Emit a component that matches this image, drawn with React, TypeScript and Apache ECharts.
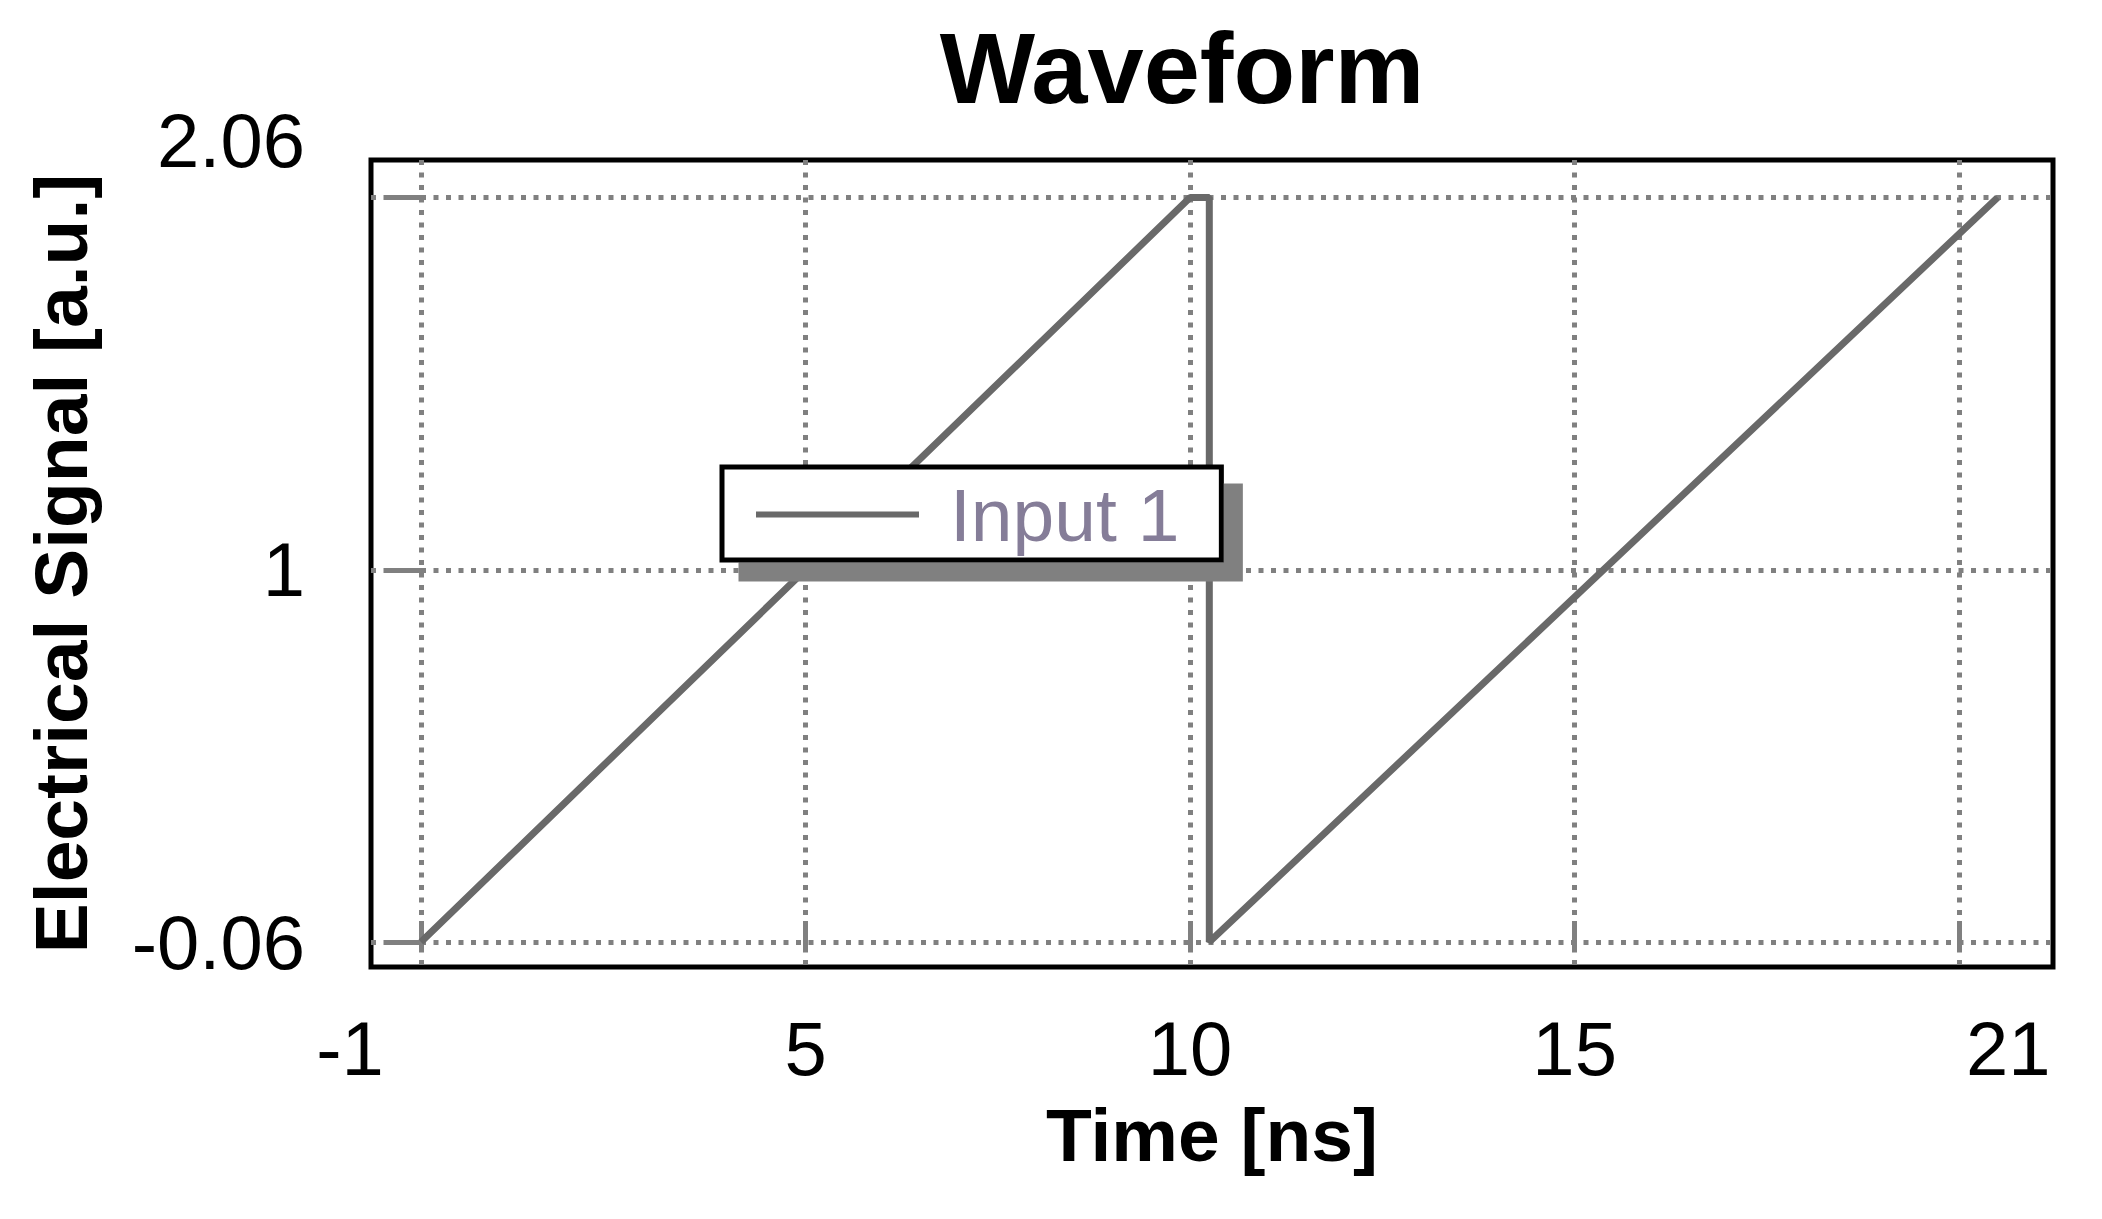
import React, { useEffect, useRef } from "react";
import * as echarts from "echarts";

// ---- data ----
const timeNs = [0, 10, 10.25, 10.25, 20.5];
const signal = [-0.06, 2.06, 2.06, -0.06, 2.06];
const seriesName = "Input 1";

const xTickValues = [0, 5, 10, 15, 20];
const xTickLabels = ["-1", "5", "10", "15", "21"];
const yTickValues = [-0.06, 1, 2.06];
const yTickLabels = ["-0.06", "1", "2.06"];

const titleText = "Waveform";
const xName = "Time [ns]";
const yName = "Electrical Signal [a.u.]";

const FONT = "'Liberation Sans', Arial, Helvetica, sans-serif";
const GRID_GRAY = "#808080";
const LINE_GRAY = "#696969";

function findIdx(arr: number[], v: number) {
  for (let i = 0; i < arr.length; i++) if (Math.abs(arr[i] - v) < 1e-9) return i;
  return -1;
}

export default function App() {
  const ref = useRef<HTMLDivElement>(null);

  useEffect(() => {
    if (!ref.current) return;
    const chart = echarts.init(ref.current, null, { renderer: "svg" });
    const seriesData = timeNs.map((t, i) => [t, signal[i]]);

    chart.setOption({
      animation: false,
      backgroundColor: "#ffffff",
      title: {
        text: titleText,
        left: 1182,
        top: 17,
        padding: 0,
        textAlign: "center",
        textStyle: { fontFamily: FONT, fontWeight: "bold", fontSize: 101, color: "#000000" },
      },
      legend: {
        left: 722,
        top: 467,
        padding: [10, 42, 8, 34],
        backgroundColor: "#ffffff",
        borderColor: "#000000",
        borderWidth: 5,
        borderRadius: 0,
        shadowColor: "#808080",
        shadowBlur: 0,
        shadowOffsetX: 19,
        shadowOffsetY: 19,
        icon: "rect",
        itemWidth: 163,
        itemHeight: 6,
        selectedMode: false,
        textStyle: { fontFamily: FONT, fontSize: 75, color: "#857d98", padding: [0, 0, 0, 26] },
        data: [seriesName],
      },
      grid: {
        left: 371,
        right: 49,
        top: 160,
        bottom: 252,
        show: true,
        borderColor: "#000000",
        borderWidth: 5,
        backgroundColor: "transparent",
        containLabel: false,
        outerBoundsMode: "none",
      },
      xAxis: {
        type: "value",
        min: -0.65,
        max: 21.22,
        axisLine: { show: false },
        axisTick: {
          show: true,
          length: 31,
          customValues: xTickValues,
          lineStyle: { color: GRID_GRAY, width: 5 },
        },
        axisLabel: {
          show: true,
          customValues: xTickValues,
          margin: 43,
          fontFamily: FONT,
          fontSize: 76,
          color: "#000000",
          formatter: (v: number) => {
            const i = findIdx(xTickValues, v);
            const t = i >= 0 ? xTickLabels[i] : "";
            if (i === 0) return `{l|${t}}`;
            if (i === xTickValues.length - 1) return `{r|${t}}`;
            return `{n|${t}}`;
          },
          rich: {
            l: { fontFamily: FONT, fontSize: 76, color: "#000000", padding: [0, 142, 0, 0] },
            r: { fontFamily: FONT, fontSize: 76, color: "#000000", padding: [0, 0, 0, 98] },
            n: { fontFamily: FONT, fontSize: 76, color: "#000000" },
          },
        },
        splitLine: {
          show: true,
          lineStyle: { color: GRID_GRAY, width: 5, type: [5, 7.5] },
        },
        name: xName,
        nameLocation: "middle",
        nameGap: 130,
        nameTextStyle: { fontFamily: FONT, fontWeight: "bold", fontSize: 75, color: "#000000" },
      },
      yAxis: {
        type: "value",
        min: -0.131,
        max: 2.167,
        axisLine: { show: false },
        axisTick: {
          show: true,
          length: 34,
          customValues: yTickValues,
          lineStyle: { color: GRID_GRAY, width: 5 },
        },
        axisLabel: {
          show: true,
          customValues: yTickValues,
          margin: 66,
          fontFamily: FONT,
          fontSize: 76,
          color: "#000000",
          formatter: (v: number) => {
            const i = findIdx(yTickValues, v);
            const t = i >= 0 ? yTickLabels[i] : "";
            if (i === yTickValues.length - 1) return `{t|${t}}`;
            return `{n|${t}}`;
          },
          rich: {
            t: { fontFamily: FONT, fontSize: 76, color: "#000000", padding: [0, 0, 114, 0] },
            n: { fontFamily: FONT, fontSize: 76, color: "#000000" },
          },
        },
        splitLine: {
          show: true,
          lineStyle: { color: GRID_GRAY, width: 5, type: [5, 7.5] },
        },
        name: yName,
        nameLocation: "middle",
        nameGap: 273,
        nameTextStyle: { fontFamily: FONT, fontWeight: "bold", fontSize: 75, color: "#000000" },
      },
      series: [
        {
          name: seriesName,
          type: "line",
          data: seriesData,
          symbol: "none",
          showSymbol: false,
          lineStyle: { color: LINE_GRAY, width: 7 },
          itemStyle: { color: LINE_GRAY },
        },
      ],
    });

    return () => {
      chart.dispose();
    };
  }, []);

  return (
    <div
      ref={ref}
      style={{ position: "absolute", left: 0, top: 0, width: 2102, height: 1219 }}
    />
  );
}
